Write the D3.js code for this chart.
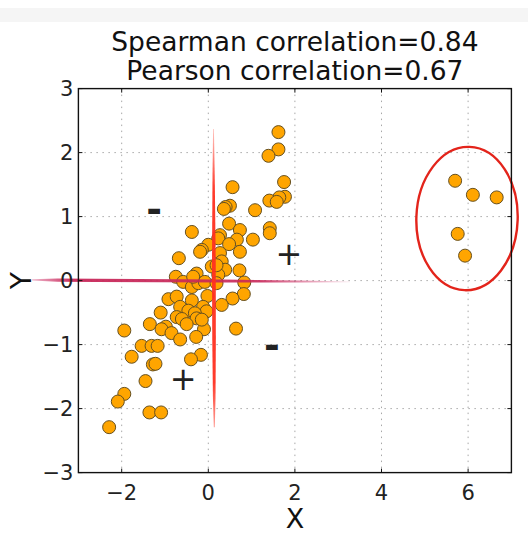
<!DOCTYPE html>
<html>
<head>
<meta charset="utf-8">
<script src="https://cdn.jsdelivr.net/npm/d3@7"></script>
<style>
  html, body { margin: 0; padding: 0; background: #fff; }
  svg { display: block; font-family: "DejaVu Sans", sans-serif; }
</style>
</head>
<body>
<svg id="chart" width="528" height="535"></svg>
<script>
// ---- data ----
const titleLines = ["Spearman correlation=0.84", "Pearson correlation=0.67"];
const xLabel = "X";
const yLabel = "Y";
const xTicks = [-2, 0, 2, 4, 6];
const yTicks = [-3, -2, -1, 0, 1, 2, 3];
const xDomain = [-3, 7];
const yDomain = [-3, 3];

// main cloud of points
const ptsX = [1.62, 1.62, 1.39, 1.75, 0.56, 1.77, 1.64, 1.41, 1.58, 0.50, 0.40, 0.36, 1.08, 0.48, 1.42, 1.42,
  -0.38, 0.73, 0.27, 0.23, 1.03, 0.66, 0.48, 0.00, -0.15, -0.19, 0.73, 0.27, -0.68, 0.31, 0.08, 0.39, 0.72,
  -0.27, -0.75, 0.23, -0.58, -0.38, -0.23, -0.08, 0.83, 0.82, 0.56, 0.31, -0.02, -0.92, -0.73, -0.38, -0.65,
  -0.46, -0.12, -0.04, -1.10, -0.73, -0.61, -0.31, -0.27, -0.50, -1.35, -0.98, -1.08, -0.85, -0.65, -0.10,
  -0.28, 0.64, -1.94, -1.54, -1.31, -1.17, -1.77, -0.17, -0.40, -1.28, -1.22, -1.45, -1.94, -2.09, -1.36,
  -1.09, -2.29, 0.19, -0.35, 0.19, -0.15];
const ptsY = [2.32, 2.05, 1.95, 1.54, 1.46, 1.31, 1.30, 1.25, 1.23, 1.17, 1.15, 1.12, 1.10, 0.89, 0.82, 0.74,
  0.76, 0.79, 0.71, 0.66, 0.64, 0.64, 0.57, 0.56, 0.48, 0.45, 0.45, 0.43, 0.35, 0.30, 0.22, 0.17, 0.16,
  0.11, 0.06, 0.09, -0.02, -0.10, -0.04, -0.02, -0.03, -0.21, -0.28, -0.38, -0.24, -0.29, -0.25, -0.31, -0.41,
  -0.47, -0.41, -0.48, -0.50, -0.57, -0.60, -0.51, -0.59, -0.68, -0.68, -0.72, -0.76, -0.82, -0.92, -0.76,
  -0.88, -0.75, -0.78, -1.02, -1.02, -1.02, -1.19, -1.16, -1.23, -1.31, -1.30, -1.57, -1.77, -1.89, -2.06,
  -2.06, -2.29, 0.24, 0.06, -0.04, -0.61];
// outliers (circled)
const outX = [5.70, 6.11, 6.66, 5.76, 5.93];
const outY = [1.56, 1.34, 1.30, 0.73, 0.39];

// annotations (data coordinates)
const signs = [
  {s: "-", x: -1.25, y: 1.12},
  {s: "-", x: 1.47, y: -1.00},
  {s: "+", x: 1.86, y: 0.42},
  {s: "+", x: -0.58, y: -1.54}
];
const ellipse = {cx: 5.975, cy: 0.97, rx: 1.17, ry: 1.12};
const vLine = {x: 0.12, y0: 2.37, y1: -2.29};
const hLine = {x0: -4.07, x1: 3.27, y0: 0.01, y1: -0.02};

// ---- layout ----
const svg = d3.select("#chart");
const pL = 78.4, pR = 511.4, pT = 88.6, pB = 472.6;
const x = d3.scaleLinear().domain(xDomain).range([pL, pR]);
const y = d3.scaleLinear().domain(yDomain).range([pB, pT]);

// faint band at top
svg.append("rect").attr("x", 0).attr("y", 8).attr("width", 528).attr("height", 14)
  .attr("fill", "#f5f5f5");

// grid
const grid = svg.append("g").attr("stroke", "#a8a8a8").attr("stroke-width", 1)
  .attr("stroke-dasharray", "1.5,4.5");
xTicks.forEach(t => grid.append("line").attr("x1", x(t)).attr("x2", x(t))
  .attr("y1", pT).attr("y2", pB));
yTicks.filter(t => t > yDomain[0] && t < yDomain[1]).forEach(t => grid.append("line")
  .attr("x1", pL).attr("x2", pR).attr("y1", y(t)).attr("y2", y(t)));

// points
const pts = ptsX.map((v, i) => [v, ptsY[i]]).concat(outX.map((v, i) => [v, outY[i]]));
svg.append("g").selectAll("circle").data(pts).join("circle")
  .attr("cx", d => x(d[0])).attr("cy", d => y(d[1])).attr("r", 6.5)
  .attr("fill", "#ffa500").attr("stroke", "#665020").attr("stroke-width", 1);

// defs for gradients
const defs = svg.append("defs");
const hg = defs.append("linearGradient").attr("id", "hg").attr("gradientUnits", "userSpaceOnUse")
  .attr("x1", x(hLine.x0)).attr("x2", x(hLine.x1)).attr("y1", 0).attr("y2", 0);
hg.append("stop").attr("offset", "0").attr("stop-color", "#d0336a").attr("stop-opacity", 0.35);
hg.append("stop").attr("offset", "0.12").attr("stop-color", "#c8285a").attr("stop-opacity", 0.95);
hg.append("stop").attr("offset", "0.72").attr("stop-color", "#c8285a").attr("stop-opacity", 0.9);
hg.append("stop").attr("offset", "1").attr("stop-color", "#d0336a").attr("stop-opacity", 0.1);

const vg = defs.append("linearGradient").attr("id", "vg").attr("gradientUnits", "userSpaceOnUse")
  .attr("x1", 0).attr("x2", 0).attr("y1", y(vLine.y0)).attr("y2", y(vLine.y1));
vg.append("stop").attr("offset", "0").attr("stop-color", "#ff3a2a").attr("stop-opacity", 0.3);
vg.append("stop").attr("offset", "0.2").attr("stop-color", "#ff3020").attr("stop-opacity", 0.95);
vg.append("stop").attr("offset", "0.85").attr("stop-color", "#ff3020").attr("stop-opacity", 0.95);
vg.append("stop").attr("offset", "1").attr("stop-color", "#ff3a2a").attr("stop-opacity", 0.5);

// horizontal hand-drawn line (tapered polygon)
{
  const xa = x(hLine.x0), xb = x(hLine.x1), ya = y(hLine.y0), yb = y(hLine.y1);
  const lerp = (t) => [xa + (xb - xa) * t, ya + (yb - ya) * t];
  const widths = [[0, 0.6], [0.08, 1.6], [0.2, 1.7], [0.6, 1.5], [0.85, 1.0], [1, 0.4]];
  const upper = widths.map(([t, w]) => { const p = lerp(t); return [p[0], p[1] - w]; });
  const lower = widths.slice().reverse().map(([t, w]) => { const p = lerp(t); return [p[0], p[1] + w]; });
  svg.append("path").attr("d", d3.line()(upper.concat(lower)) + "Z").attr("fill", "url(#hg)");
}
// vertical hand-drawn line (tapered polygon)
{
  const xa = x(vLine.x), ya = y(vLine.y0), yb = y(vLine.y1);
  const widths = [[0, 0.4], [0.15, 1.1], [0.45, 1.9], [0.7, 1.8], [0.9, 1.3], [1, 0.5]];
  const pt = (t) => [xa + 0.8 * t, ya + (yb - ya) * t];
  const l = widths.map(([t, w]) => { const p = pt(t); return [p[0] - w, p[1]]; });
  const r = widths.slice().reverse().map(([t, w]) => { const p = pt(t); return [p[0] + w, p[1]]; });
  svg.append("path").attr("d", d3.line()(l.concat(r)) + "Z").attr("fill", "url(#vg)");
}

// ellipse around outliers
svg.append("ellipse")
  .attr("cx", x(ellipse.cx)).attr("cy", y(ellipse.cy))
  .attr("rx", x(ellipse.cx + ellipse.rx) - x(ellipse.cx))
  .attr("ry", y(ellipse.cy) - y(ellipse.cy + ellipse.ry))
  .attr("transform", `rotate(2 ${x(ellipse.cx)} ${y(ellipse.cy)})`)
  .attr("fill", "none").attr("stroke", "#e3241b").attr("stroke-width", 2.4);

// signs
svg.append("g").selectAll("text").data(signs).join("text")
  .attr("x", d => x(d.x)).attr("y", d => y(d.y))
  .attr("text-anchor", "middle").attr("dominant-baseline", "central")
  .attr("font-size", d => d.s === "+" ? 32 : 38)
  .attr("font-weight", d => d.s === "+" ? "normal" : "bold")
  .attr("fill", "#222")
  .text(d => d.s);

// frame
svg.append("rect").attr("x", pL).attr("y", pT).attr("width", pR - pL).attr("height", pB - pT)
  .attr("fill", "none").attr("stroke", "#111").attr("stroke-width", 1.4);

// ticks inward on all sides
const tk = svg.append("g").attr("stroke", "#111").attr("stroke-width", 1);
xTicks.forEach(t => {
  tk.append("line").attr("x1", x(t)).attr("x2", x(t)).attr("y1", pB).attr("y2", pB - 4);
  tk.append("line").attr("x1", x(t)).attr("x2", x(t)).attr("y1", pT).attr("y2", pT + 4);
});
yTicks.forEach(t => {
  tk.append("line").attr("x1", pL).attr("x2", pL + 4).attr("y1", y(t)).attr("y2", y(t));
  tk.append("line").attr("x1", pR).attr("x2", pR - 4).attr("y1", y(t)).attr("y2", y(t));
});

const fmt = v => (v < 0 ? "\u2212" : "") + Math.abs(v);
svg.append("g").selectAll("text").data(xTicks).join("text")
  .attr("x", d => x(d)).attr("y", pB + 27).attr("text-anchor", "middle")
  .attr("font-size", 21).attr("fill", "#222").text(fmt);
svg.append("g").selectAll("text").data(yTicks).join("text")
  .attr("x", pL - 5).attr("y", d => y(d)).attr("text-anchor", "end")
  .attr("dominant-baseline", "central").attr("font-size", 21).attr("fill", "#222").text(fmt);

// axis labels
svg.append("text").attr("x", (pL + pR) / 2).attr("y", 528).attr("text-anchor", "middle")
  .attr("font-size", 27).attr("fill", "#111").text(xLabel);
svg.append("text").attr("transform", `translate(31, ${(pT + pB) / 2}) rotate(-90)`)
  .attr("text-anchor", "middle").attr("font-size", 28).attr("fill", "#111").text(yLabel);

// title
svg.append("g").selectAll("text").data(titleLines).join("text")
  .attr("x", (pL + pR) / 2).attr("y", (d, i) => 51 + i * 29).attr("text-anchor", "middle")
  .attr("font-size", 26.5).attr("fill", "#111").text(d => d);
</script>
</body>
</html>
